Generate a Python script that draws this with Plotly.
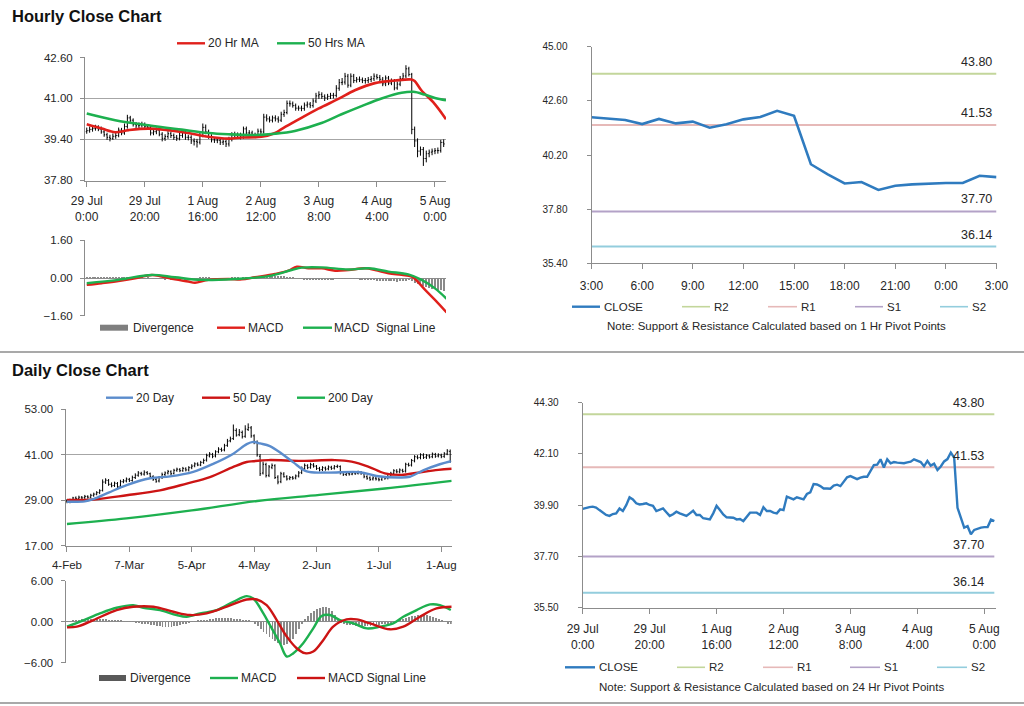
import plotly.graph_objects as go

W, H = 1024, 706
FONT = "Liberation Sans, Arial, sans-serif"
TXT = "#262626"
GRID = "#a6a6a6"
AX = "#8c8c8c"

# ---------------- DATA ----------------
hourly_tickvals = [0, 20, 40, 60, 80, 100, 120]
hourly_ticktext = ["29 Jul<br>0:00", "29 Jul<br>20:00", "1 Aug<br>16:00", "2 Aug<br>12:00",
                   "3 Aug<br>8:00", "4 Aug<br>4:00", "5 Aug<br>0:00"]

hourly_close = [
    39.74, 39.79, 39.82, 39.84, 39.80, 39.69, 39.58, 39.48, 39.44, 39.52,
    39.55, 39.76, 39.65, 39.90, 40.24, 40.15, 39.98, 39.93, 39.95, 39.98,
    39.91, 39.87, 39.65, 39.70, 39.76, 39.60, 39.44, 39.51, 39.62, 39.55,
    39.48, 39.44, 39.55, 39.66, 39.48, 39.48, 39.34, 39.32, 39.29, 39.55,
    39.87, 39.69, 39.50, 39.38, 39.37, 39.36, 39.29, 39.31, 39.22, 39.40,
    39.58, 39.58, 39.58, 39.48, 39.81, 39.65, 39.65, 39.58, 39.55, 39.72,
    39.69, 40.27, 40.20, 40.15, 40.24, 40.20, 40.15, 40.38, 40.45, 40.81,
    40.79, 40.72, 40.62, 40.62, 40.61, 40.74, 40.78, 40.72, 40.90, 41.10,
    41.15, 41.08, 41.02, 41.08, 41.12, 41.12, 41.40, 41.62, 41.64, 41.87,
    41.52, 41.87, 41.70, 41.75, 41.73, 41.70, 41.70, 41.74, 41.77, 41.87,
    41.82, 41.75, 41.57, 41.80, 41.60, 41.68, 41.41, 41.56, 41.78, 41.88,
    42.16, 41.94, 39.79, 39.34, 38.94, 39.00, 38.65, 38.84, 38.90, 38.94,
    38.96, 38.96, 39.28, 39.22]
hourly_open = [
    39.70, 39.74, 39.79, 39.82, 39.84, 39.80, 39.69, 39.58, 39.48, 39.44,
    39.52, 39.55, 39.76, 39.65, 39.90, 40.24, 40.15, 39.98, 39.93, 39.95,
    39.98, 39.91, 39.87, 39.65, 39.70, 39.76, 39.60, 39.44, 39.51, 39.62,
    39.55, 39.48, 39.44, 39.55, 39.66, 39.48, 39.48, 39.34, 39.32, 39.29,
    39.55, 39.87, 39.69, 39.50, 39.38, 39.37, 39.36, 39.29, 39.31, 39.22,
    39.40, 39.58, 39.58, 39.58, 39.48, 39.81, 39.65, 39.65, 39.58, 39.55,
    39.72, 39.69, 40.27, 40.20, 40.15, 40.24, 40.20, 40.15, 40.38, 40.45,
    40.81, 40.79, 40.72, 40.62, 40.62, 40.61, 40.74, 40.78, 40.72, 40.90,
    41.10, 41.15, 41.08, 41.02, 41.08, 41.12, 41.12, 41.40, 41.62, 41.64,
    41.87, 41.52, 41.87, 41.70, 41.75, 41.73, 41.70, 41.70, 41.74, 41.77,
    41.87, 41.82, 41.75, 41.57, 41.80, 41.60, 41.68, 41.41, 41.56, 41.78,
    41.88, 42.16, 41.94, 39.79, 39.34, 38.94, 39.00, 38.65, 38.84, 38.90,
    38.94, 38.96, 38.96, 39.28]
hourly_high = [
    39.86, 39.90, 39.95, 39.97, 39.95, 39.90, 39.78, 39.66, 39.58, 39.63,
    39.66, 39.86, 39.85, 40.02, 40.36, 40.32, 40.22, 40.08, 40.06, 40.09,
    40.06, 39.99, 39.95, 39.80, 39.86, 39.84, 39.68, 39.60, 39.72, 39.70,
    39.63, 39.57, 39.65, 39.76, 39.74, 39.58, 39.56, 39.44, 39.42, 39.66,
    40.02, 39.98, 39.78, 39.60, 39.48, 39.46, 39.45, 39.40, 39.40, 39.50,
    39.68, 39.70, 39.67, 39.66, 39.90, 39.90, 39.76, 39.74, 39.66, 39.82,
    39.82, 40.40, 40.38, 40.30, 40.33, 40.34, 40.30, 40.48, 40.56, 40.92,
    40.92, 40.88, 40.80, 40.72, 40.72, 40.84, 40.88, 40.86, 41.00, 41.22,
    41.28, 41.24, 41.16, 41.18, 41.22, 41.22, 41.52, 41.76, 41.80, 42.00,
    41.96, 41.98, 41.96, 41.84, 41.86, 41.82, 41.80, 41.84, 41.88, 41.98,
    41.96, 41.92, 41.84, 41.90, 41.88, 41.78, 41.76, 41.66, 41.88, 42.00,
    42.30, 42.24, 42.00, 39.90, 39.44, 39.12, 39.10, 38.96, 39.00, 39.04,
    39.06, 39.08, 39.38, 39.40]
hourly_low = [
    39.62, 39.66, 39.70, 39.74, 39.72, 39.62, 39.50, 39.38, 39.32, 39.38,
    39.42, 39.48, 39.56, 39.58, 39.82, 40.04, 39.90, 39.84, 39.84, 39.86,
    39.82, 39.78, 39.55, 39.56, 39.60, 39.52, 39.32, 39.34, 39.42, 39.45,
    39.38, 39.34, 39.36, 39.46, 39.38, 39.36, 39.22, 39.16, 39.08, 39.20,
    39.48, 39.60, 39.42, 39.28, 39.26, 39.25, 39.18, 39.18, 39.10, 39.12,
    39.32, 39.48, 39.46, 39.40, 39.42, 39.56, 39.55, 39.48, 39.45, 39.46,
    39.58, 39.62, 40.10, 40.06, 40.06, 40.10, 40.05, 40.08, 40.28, 40.38,
    40.68, 40.64, 40.52, 40.52, 40.50, 40.52, 40.64, 40.62, 40.64, 40.82,
    40.98, 40.98, 40.90, 40.94, 40.98, 41.00, 41.04, 41.30, 41.52, 41.54,
    41.42, 41.44, 41.60, 41.62, 41.64, 41.60, 41.58, 41.60, 41.64, 41.68,
    41.74, 41.68, 41.48, 41.48, 41.52, 41.52, 41.32, 41.34, 41.48, 41.70,
    41.80, 41.86, 39.60, 39.10, 38.70, 38.76, 38.36, 38.50, 38.70, 38.78,
    38.82, 38.84, 38.88, 39.10]

ma20h_x = [0, 5.2, 9.8, 14.4, 21.2, 28.1, 35, 41.9, 48.8, 53.4, 60.2, 64.9, 67.1, 71.8,
           79.8, 86.7, 92.4, 99.3, 106.2, 111.9, 113, 115.3, 119.8, 123.8]
ma20h_y = [39.99, 39.82, 39.68, 39.76, 39.82, 39.76, 39.65, 39.50, 39.43, 39.47, 39.50, 39.65,
           39.80, 40.10, 40.60, 40.98, 41.32, 41.60, 41.70, 41.74, 41.68, 41.32, 40.80, 40.19]
ma50h_x = [0, 9.8, 21.2, 32.7, 41.9, 48.8, 58, 64.9, 71.7, 80.9, 87.8, 94.7, 101.6, 108.5,
           112.5, 116.5, 120, 123.8]
ma50h_y = [40.41, 40.15, 39.95, 39.78, 39.65, 39.60, 39.57, 39.62, 39.73, 40.04, 40.38, 40.70,
           41.00, 41.22, 41.26, 41.15, 41.02, 40.93]

macdh_x = [0, 5.2, 10.9, 16.7, 22.4, 25.8, 30.4, 35, 37.3, 41.9, 48.8, 53.4, 58, 64.9, 69.5,
           72.4, 76.4, 81, 85.6, 90.2, 95.9, 99.4, 104, 108.5, 112, 116.6, 120, 124]
macdh_y = [-0.29, -0.22, -0.13, -0.01, 0.13, 0.06, -0.06, -0.15, -0.20, -0.08, -0.04, -0.06,
           0.03, 0.17, 0.31, 0.48, 0.41, 0.41, 0.31, 0.34, 0.41, 0.34, 0.20, 0.13, 0.06,
           -0.50, -0.93, -1.46]
sigh_x = [0, 10.9, 22.4, 30.4, 39.6, 51.1, 62.6, 70.6, 74.1, 81, 90.2, 97.1, 104, 110.8,
          115.4, 120, 124]
sigh_y = [-0.22, -0.08, 0.13, 0.03, -0.08, -0.04, 0.08, 0.34, 0.44, 0.45, 0.36, 0.41, 0.27,
          0.15, -0.08, -0.44, -0.88]
divh = [
    0.02, 0.03, 0.02, 0.03, 0.02, 0.03, 0.02, 0.02, 0.03, 0.02,
    0.02, 0.03, 0.02, 0.01, 0.02, 0.01, 0.00, 0.01, 0.00, 0.01,
    0.00, 0.01, 0.00, -0.01, -0.02, -0.03, -0.04, -0.05, -0.04, -0.05,
    -0.04, -0.06, -0.05, -0.04, -0.06, -0.05, -0.04, -0.03, -0.02, 0.02,
    0.03, 0.02, 0.01, 0.00, -0.01, -0.02, -0.01, -0.02, -0.01, 0.00,
    0.01, 0.02, 0.01, 0.00, 0.01, 0.02, 0.03, 0.02, 0.03, 0.04,
    0.05, 0.06, 0.07, 0.08, 0.07, 0.08, 0.06, 0.07, 0.05, 0.04,
    0.03, 0.02, 0.00, -0.02, -0.04, -0.05, -0.06, -0.07, -0.06, -0.08,
    -0.07, -0.06, -0.08, -0.07, -0.05, -0.06, -0.04, -0.03, -0.02, -0.01,
    0.00, -0.01, -0.02, -0.04, -0.05, -0.06, -0.07, -0.08, -0.09, -0.10,
    -0.11, -0.12, -0.13, -0.12, -0.13, -0.12, -0.14, -0.15, -0.14, -0.13,
    -0.12, -0.10, -0.14, -0.20, -0.25, -0.30, -0.34, -0.38, -0.42, -0.45,
    -0.48, -0.50, -0.52, -0.54]

pivot_start = 99
pivot_ticktext = ["3:00", "6:00", "9:00", "12:00", "15:00", "18:00", "21:00", "0:00", "3:00"]
level_names = ["R2", "R1", "S1", "S2"]
level_values = [43.80, 41.53, 37.70, 36.14]
level_colors = ["#c3d69b", "#e6b9b8", "#b3a2c7", "#93cddd"]

daily_tickvals = [0, 21, 42, 63, 84, 105, 126]
daily_ticktext = ["4-Feb", "7-Mar", "5-Apr", "4-May", "2-Jun", "1-Jul", "1-Aug"]
daily_close = [
    28.6, 29.0, 29.6, 29.4, 29.8, 29.6, 30.0, 29.8, 30.3, 30.6,
    31.0, 31.5, 33.8, 34.3, 33.2, 32.8, 33.5, 32.6, 33.9, 34.1,
    34.6, 34.2, 35.0, 35.6, 36.2, 35.9, 36.4, 36.0, 35.3, 34.5,
    34.0, 35.0, 35.8, 36.2, 36.6, 36.0, 36.9, 37.2, 36.8, 37.4,
    37.0, 37.6, 38.0, 38.6, 38.3, 39.0, 39.5, 40.8, 41.2, 40.6,
    41.8, 42.5, 42.2, 43.4, 44.6, 45.2, 47.5, 46.2, 47.0, 45.8,
    47.8, 48.2, 46.0, 44.5, 41.0, 36.0, 38.5, 35.5, 37.8, 38.2,
    35.0, 33.8, 36.0, 35.2, 34.6, 35.0, 34.8, 35.4, 36.2, 37.5,
    38.2, 37.6, 38.4, 38.0, 37.4, 37.0, 37.6, 37.2, 37.8, 37.4,
    37.9, 38.0, 36.2, 35.8, 36.1, 35.9, 36.2, 36.0, 36.4, 36.1,
    35.2, 34.8, 34.5, 34.9, 34.6, 34.4, 35.0, 34.8, 35.8, 36.1,
    36.8, 36.5, 37.0, 36.6, 38.5, 38.2, 39.5, 40.5, 40.2, 41.0,
    40.3, 40.8, 40.4, 41.2, 40.6, 41.0, 40.5, 41.3, 42.0, 39.3]
daily_open = [
    28.8, 28.6, 29.1, 29.6, 29.4, 29.8, 29.7, 30.0, 29.8, 30.3,
    30.6, 31.0, 31.6, 33.8, 34.2, 33.2, 32.9, 33.4, 32.7, 33.9,
    34.1, 34.5, 34.2, 35.0, 35.6, 36.1, 35.9, 36.3, 36.0, 35.2,
    34.5, 34.1, 35.0, 35.8, 36.2, 36.5, 36.1, 36.9, 37.1, 36.8,
    37.3, 37.0, 37.6, 38.1, 38.6, 38.3, 39.0, 39.6, 40.7, 41.1,
    40.7, 41.8, 42.4, 42.3, 43.5, 44.7, 45.3, 47.4, 46.3, 46.9,
    45.9, 47.7, 48.1, 46.0, 44.3, 40.6, 36.2, 38.4, 35.6, 37.7,
    38.1, 35.1, 33.9, 35.9, 35.2, 34.7, 35.0, 34.9, 35.4, 36.3,
    37.4, 38.1, 37.7, 38.3, 38.0, 37.4, 37.1, 37.5, 37.3, 37.7,
    37.5, 37.9, 37.9, 36.3, 35.8, 36.0, 35.9, 36.2, 36.1, 36.3,
    36.0, 35.2, 34.9, 34.6, 34.8, 34.6, 34.5, 35.0, 34.9, 35.7,
    36.1, 36.7, 36.5, 36.9, 36.7, 38.4, 38.3, 39.4, 40.4, 40.3,
    40.9, 40.4, 40.7, 40.5, 41.1, 40.7, 40.9, 40.6, 41.2, 41.9]
daily_high = [
    29.3, 29.4, 29.9, 30.0, 30.2, 30.1, 30.4, 30.3, 30.7, 31.0,
    31.4, 31.9, 34.5, 34.8, 34.6, 33.7, 33.9, 33.8, 34.4, 34.6,
    35.0, 34.9, 35.5, 36.1, 36.7, 36.5, 36.9, 36.7, 36.3, 35.6,
    34.9, 35.4, 36.3, 36.6, 37.0, 36.9, 37.3, 37.6, 37.5, 37.8,
    37.7, 38.0, 38.5, 39.0, 39.0, 39.4, 40.0, 41.3, 41.7, 41.5,
    42.2, 43.0, 42.9, 43.9, 45.2, 45.8, 49.0, 48.0, 47.8, 47.4,
    48.8, 49.3, 48.6, 46.4, 44.8, 41.2, 39.2, 38.9, 38.3, 38.7,
    38.5, 35.6, 36.5, 36.4, 35.6, 35.4, 35.4, 35.8, 36.7, 37.9,
    38.7, 38.5, 38.9, 38.8, 38.3, 37.8, 38.0, 37.9, 38.2, 38.1,
    38.3, 38.4, 38.2, 36.7, 36.5, 36.4, 36.6, 36.5, 36.8, 36.7,
    36.4, 35.6, 35.3, 35.3, 35.2, 35.0, 35.4, 35.4, 36.2, 36.5,
    37.2, 37.2, 37.4, 37.3, 38.9, 38.9, 39.9, 40.9, 40.9, 41.4,
    41.4, 41.2, 41.1, 41.6, 41.5, 41.4, 41.3, 41.7, 42.5, 42.4]
daily_low = [
    28.2, 28.2, 28.8, 29.0, 29.0, 29.2, 29.3, 29.4, 29.5, 29.9,
    30.3, 30.6, 31.3, 33.3, 32.8, 32.4, 32.5, 32.2, 32.4, 33.5,
    33.7, 33.8, 33.9, 34.6, 35.2, 35.5, 35.5, 35.7, 34.9, 34.1,
    33.6, 33.7, 34.6, 35.4, 35.8, 35.6, 35.8, 36.5, 36.4, 36.5,
    36.6, 36.6, 37.2, 37.7, 38.0, 38.0, 38.6, 39.2, 40.3, 40.1,
    40.3, 41.4, 41.8, 41.9, 43.1, 44.3, 44.9, 45.8, 45.9, 45.3,
    45.5, 47.3, 45.5, 43.8, 40.5, 35.4, 35.8, 35.0, 35.1, 37.2,
    34.6, 33.2, 33.5, 35.0, 34.2, 34.3, 34.4, 34.5, 35.0, 35.9,
    37.0, 37.2, 37.3, 37.6, 37.0, 36.6, 36.7, 36.8, 36.9, 37.0,
    37.1, 37.5, 35.8, 35.4, 35.4, 35.5, 35.6, 35.7, 35.8, 35.7,
    34.8, 34.4, 34.1, 34.2, 34.2, 34.0, 34.1, 34.4, 34.5, 35.4,
    35.8, 36.1, 36.1, 36.3, 36.3, 37.9, 37.9, 39.0, 39.8, 39.8,
    39.9, 39.9, 40.0, 40.1, 40.2, 40.3, 40.1, 40.2, 40.9, 38.9]

ma20d_x = [0, 6, 8.9, 14, 20.1, 28, 34.7, 42.5, 49.2, 56, 60.5, 62.7, 65, 68.3, 72.8, 76.2,
           80.7, 87.4, 98.6, 104.2, 112.1, 115.4, 119.9, 125.5, 129.2]
ma20d_y = [28.6, 28.7, 29.3, 31.0, 33.0, 34.8, 35.3, 36.5, 38.6, 41.3, 43.8, 44.4, 44.0, 43.3,
           41.0, 39.0, 36.6, 36.3, 36.4, 35.4, 35.0, 35.2, 36.9, 38.5, 39.3]
ma50d_x = [0, 8.9, 20.1, 31.3, 40.3, 48.1, 56, 60.5, 62.7, 67.8, 79, 90.2, 95.8, 101.4, 107,
           112.6, 118.2, 125, 129.5]
ma50d_y = [29.07, 29.2, 30.3, 31.6, 33.4, 35.1, 37.8, 39.1, 39.3, 39.6, 39.4, 39.6, 39.2, 37.9,
           36.1, 35.7, 36.3, 37.0, 37.3]
ma200d_x = [0, 20, 42, 64, 85, 107, 129.5]
ma200d_y = [22.7, 24.2, 26.3, 28.8, 30.4, 32.1, 34.1]

macdd_x = [0, 5.5, 11.1, 16.7, 22.3, 25.7, 31.3, 36.9, 40.3, 44.8, 50.4, 56, 60.5, 62.7, 66.1,
           68.3, 71.7, 74, 76.2, 79.5, 82.9, 85.7, 88.5, 91.9, 96.4, 100.9, 105.4, 109.8,
           113.2, 117.7, 122.2, 125.5, 129.2]
macdd_y = [-0.73, 0.2, 1.22, 2.05, 2.44, 2.05, 1.71, 0.98, 0.73, 1.22, 1.71, 2.93, 3.76, 3.41,
           1.22, -0.49, -3.17, -5.12, -4.63, -3.17, -0.98, 0.83, 0.98, 0.24, -0.24, -0.98,
           -0.73, -0.24, 0.73, 1.71, 2.54, 2.44, 1.71]
sigd_x = [0, 3.3, 8.9, 16.7, 22.3, 29.1, 35.8, 41.4, 47, 53.8, 60.5, 63.9, 67.2, 70.6, 74,
          77.3, 80.1, 82.9, 86.3, 89.6, 94.1, 97.5, 102, 108.7, 113.2, 118.8, 124.4, 129.5]
sigd_y = [-0.83, -0.73, 0.24, 1.71, 2.2, 2.2, 1.46, 0.98, 1.22, 2.2, 3.27, 3.27, 2.44, 0.24,
          -2.2, -3.9, -4.63, -4.39, -2.68, -0.73, 0.34, 0.34, -0.24, -1.12, -0.73, 0.73,
          1.95, 2.2]
divd = [
    0.05, 0.10, 0.18, 0.25, 0.32, 0.38, 0.42, 0.46, 0.48, 0.50,
    0.48, 0.45, 0.42, 0.38, 0.34, 0.30, 0.26, 0.22, 0.18, 0.14,
    0.10, 0.06, 0.02, -0.05, -0.10, -0.18, -0.25, -0.32, -0.40, -0.48,
    -0.55, -0.62, -0.68, -0.72, -0.74, -0.70, -0.62, -0.52, -0.40, -0.28,
    -0.15, -0.05, 0.05, 0.12, 0.18, 0.24, 0.30, 0.36, 0.42, 0.48,
    0.54, 0.58, 0.60, 0.58, 0.56, 0.52, 0.48, 0.45, 0.40, 0.36,
    0.32, 0.25, 0.10, -0.20, -0.60, -1.00, -1.40, -1.80, -2.20, -2.50,
    -2.80, -3.05, -3.25, -3.40, -3.30, -3.00, -2.50, -1.80, -1.00, -0.30,
    0.40, 0.90, 1.30, 1.65, 1.90, 2.10, 2.20, 2.15, 2.00, 1.60,
    1.00, 0.40, -0.10, -0.30, -0.40, -0.45, -0.50, -0.55, -0.58, -0.60,
    -0.60, -0.58, -0.55, -0.50, -0.45, -0.40, -0.35, -0.30, -0.25, -0.15,
    -0.05, 0.10, 0.25, 0.40, 0.55, 0.70, 0.82, 0.92, 1.00, 1.05,
    1.05, 1.00, 0.92, 0.80, 0.65, 0.50, 0.30, 0.10, -0.15, -0.30]

# ---------------- STYLE ----------------
RED = "#e0201b"
GREEN = "#1db04f"
BLUE_MA = "#5b8ccc"
RED_D = "#cc1414"
CLOSE_BLUE = "#2f7bbf"
DIV_GREY = "#8a8a8a"

hx = list(range(len(hourly_close)))
dx = list(range(len(daily_close)))
px_x = hx[pivot_start:]
px_y = hourly_close[pivot_start:]
pivot_tickvals = px_x[::3]


def P(x):
    return x / W


def Q(y):
    return 1 - y / H


def xd(a, b):
    return [P(a), P(b)]


def yd(top, bottom):
    return [Q(bottom), Q(top)]


fig = go.Figure()

fig.add_trace(go.Ohlc(x=hx, open=hourly_open, high=hourly_high, low=hourly_low, close=hourly_close,
                      increasing=dict(line=dict(color="black", width=1)),
                      decreasing=dict(line=dict(color="black", width=1)),
                      tickwidth=0.35, xaxis="x", yaxis="y", showlegend=False, hoverinfo="skip"))
fig.add_trace(go.Scatter(x=ma20h_x, y=ma20h_y, mode="lines", line=dict(color=RED, width=2.6, shape="spline"),
                         xaxis="x", yaxis="y", showlegend=False))
fig.add_trace(go.Scatter(x=ma50h_x, y=ma50h_y, mode="lines", line=dict(color=GREEN, width=2.6, shape="spline"),
                         xaxis="x", yaxis="y", showlegend=False))

fig.add_trace(go.Bar(x=hx, y=divh, marker=dict(color=DIV_GREY, line=dict(width=0)), width=0.35,
                     xaxis="x2", yaxis="y2", showlegend=False))
fig.add_trace(go.Scatter(x=macdh_x, y=macdh_y, mode="lines", line=dict(color=RED, width=2.4, shape="spline"),
                         xaxis="x2", yaxis="y2", showlegend=False))
fig.add_trace(go.Scatter(x=sigh_x, y=sigh_y, mode="lines", line=dict(color=GREEN, width=2.4, shape="spline"),
                         xaxis="x2", yaxis="y2", showlegend=False))

for nm, v, c in zip(level_names, level_values, level_colors):
    fig.add_trace(go.Scatter(x=[px_x[0], px_x[-1]], y=[v, v], mode="lines", line=dict(color=c, width=2),
                             xaxis="x3", yaxis="y3", showlegend=False))
fig.add_trace(go.Scatter(x=px_x, y=px_y, mode="lines", line=dict(color=CLOSE_BLUE, width=2.6),
                         xaxis="x3", yaxis="y3", showlegend=False))

fig.add_trace(go.Ohlc(x=dx, open=daily_open, high=daily_high, low=daily_low, close=daily_close,
                      increasing=dict(line=dict(color="black", width=1)),
                      decreasing=dict(line=dict(color="black", width=1)),
                      tickwidth=0.35, xaxis="x4", yaxis="y4", showlegend=False, hoverinfo="skip"))
fig.add_trace(go.Scatter(x=ma200d_x, y=ma200d_y, mode="lines", line=dict(color=GREEN, width=2.4, shape="spline"),
                         xaxis="x4", yaxis="y4", showlegend=False))
fig.add_trace(go.Scatter(x=ma50d_x, y=ma50d_y, mode="lines", line=dict(color=RED_D, width=2.4, shape="spline"),
                         xaxis="x4", yaxis="y4", showlegend=False))
fig.add_trace(go.Scatter(x=ma20d_x, y=ma20d_y, mode="lines", line=dict(color=BLUE_MA, width=2.4, shape="spline"),
                         xaxis="x4", yaxis="y4", showlegend=False))

fig.add_trace(go.Bar(x=dx, y=divd, marker=dict(color=DIV_GREY, line=dict(width=0)), width=0.3,
                     xaxis="x5", yaxis="y5", showlegend=False))
fig.add_trace(go.Scatter(x=macdd_x, y=macdd_y, mode="lines", line=dict(color=GREEN, width=2.4, shape="spline"),
                         xaxis="x5", yaxis="y5", showlegend=False))
fig.add_trace(go.Scatter(x=sigd_x, y=sigd_y, mode="lines", line=dict(color=RED_D, width=2.4, shape="spline"),
                         xaxis="x5", yaxis="y5", showlegend=False))

for nm, v, c in zip(level_names, level_values, level_colors):
    fig.add_trace(go.Scatter(x=[hx[0], hx[-1]], y=[v, v], mode="lines", line=dict(color=c, width=2),
                             xaxis="x6", yaxis="y6", showlegend=False))
fig.add_trace(go.Scatter(x=hx, y=hourly_close, mode="lines", line=dict(color=CLOSE_BLUE, width=2.4),
                         xaxis="x6", yaxis="y6", showlegend=False))

tick_font_l = dict(family=FONT, size=11.5, color=TXT)
tick_font_x = dict(family=FONT, size=12, color=TXT)
tick_font_r = dict(family=FONT, size=10, color=TXT)

base_x = dict(showgrid=False, zeroline=False, fixedrange=True, showline=True, linecolor=AX, linewidth=1,
              ticks="outside", ticklen=5, tickcolor=AX, tickfont=tick_font_x, automargin=False)
base_y = dict(zeroline=False, fixedrange=True, showline=True, linecolor=AX, linewidth=1,
              ticks="outside", ticklen=4, tickcolor=AX, tickformat=".2f", automargin=False)
hidden_x = dict(showgrid=False, zeroline=False, showline=False, showticklabels=False, ticks="",
                fixedrange=True, automargin=False)

layout = dict(
    width=W, height=H, margin=dict(l=0, r=0, t=0, b=0, pad=0, autoexpand=False), autosize=False,
    paper_bgcolor="white", plot_bgcolor="white", showlegend=False,
    font=dict(family=FONT, color=TXT),
    xaxis=dict(base_x, domain=xd(85, 446), range=[-0.6, 123.8], anchor="y",
               tickvals=hourly_tickvals, ticktext=hourly_ticktext, rangeslider=dict(visible=False),
               ticklabelstandoff=4),
    yaxis=dict(base_y, domain=yd(57.3, 180.5), range=[37.79, 42.61], anchor="x",
               tickvals=[37.8, 39.4, 41.0, 42.6], showgrid=True, gridcolor=GRID, tickfont=tick_font_l,
               ticklabelstandoff=5),
    xaxis2=dict(hidden_x, domain=xd(85, 446), range=[-0.6, 123.8], anchor="y2"),
    yaxis2=dict(base_y, domain=yd(240, 316), range=[-1.61, 1.61], anchor="x2",
                tickvals=[-1.6, 0, 1.6], showgrid=True, gridcolor=GRID, zeroline=True,
                zerolinecolor=AX, zerolinewidth=1, tickfont=tick_font_l, ticklabelstandoff=5),
    xaxis3=dict(base_x, domain=xd(591.5, 996.5), range=[px_x[0], px_x[-1]], anchor="y3",
                tickvals=pivot_tickvals, ticktext=pivot_ticktext, ticklabelstandoff=6),
    yaxis3=dict(base_y, domain=yd(46.7, 263.3), range=[35.4, 45.0], anchor="x3",
                tickvals=[35.4, 37.8, 40.2, 42.6, 45.0], showgrid=False, tickfont=tick_font_r,
                ticklabelstandoff=17),
    xaxis4=dict(base_x, domain=xd(65.5, 451.7), range=[-0.5, 129.5], anchor="y4",
                tickvals=daily_tickvals, ticktext=daily_ticktext, rangeslider=dict(visible=False),
                tickfont=dict(family=FONT, size=11.5, color=TXT), ticklabelstandoff=3),
    yaxis4=dict(base_y, domain=yd(409.3, 545.7), range=[16.98, 53.02], anchor="x4",
                tickvals=[17, 29, 41, 53], showgrid=True, gridcolor=GRID, tickfont=tick_font_l,
                ticklabelstandoff=5),
    xaxis5=dict(hidden_x, domain=xd(65.5, 451.7), range=[-0.5, 129.5], anchor="y5"),
    yaxis5=dict(base_y, domain=yd(580.7, 662.7), range=[-6.03, 6.03], anchor="x5",
                tickvals=[-6, 0, 6], showgrid=True, gridcolor=GRID, zeroline=True,
                zerolinecolor=AX, zerolinewidth=1, tickfont=tick_font_l, ticklabelstandoff=5),
    xaxis6=dict(base_x, domain=xd(582.7, 996), range=[0, 123.5], anchor="y6",
                tickvals=hourly_tickvals, ticktext=hourly_ticktext, ticklabelstandoff=5),
    yaxis6=dict(base_y, domain=yd(402.7, 607.7), range=[35.5, 44.3], anchor="x6",
                tickvals=[35.5, 37.7, 39.9, 42.1, 44.3], showgrid=False, tickfont=tick_font_r,
                ticklabelstandoff=17),
    bargap=0,
)
fig.update_layout(**layout)

shapes = []
annotations = []


def leg_line(x0, x1, y, color, width=2.4):
    shapes.append(dict(type="line", xref="paper", yref="paper", x0=P(x0), x1=P(x1), y0=Q(y), y1=Q(y),
                       line=dict(color=color, width=width)))


def leg_rect(x0, x1, y, h, color):
    shapes.append(dict(type="rect", xref="paper", yref="paper", x0=P(x0), x1=P(x1), y0=Q(y + h / 2),
                       y1=Q(y - h / 2), line=dict(width=0), fillcolor=color))


def text(x, y, s, size=11.5, anchor="left", bold=False, color=TXT):
    annotations.append(dict(xref="paper", yref="paper", x=P(x), y=Q(y), text=("<b>%s</b>" % s) if bold else s,
                            showarrow=False, xanchor=anchor, yanchor="middle",
                            font=dict(family=FONT, size=size, color=color)))


text(10, 16, "Hourly Close Chart", size=16.5, bold=True, color="#111111")
text(10, 370, "Daily Close Chart", size=16.5, bold=True, color="#111111")

for yy in (352, 703):
    shapes.append(dict(type="line", xref="paper", yref="paper", x0=0, x1=1, y0=Q(yy), y1=Q(yy),
                       line=dict(color="#8c8c8c", width=1.5)))

leg_line(177, 205, 43.3, RED)
text(206, 43.3, "20 Hr MA", size=12)
leg_line(277, 305, 43.3, GREEN)
text(306, 43.3, "50 Hrs MA", size=12)

leg_rect(100, 128, 327.7, 6, "#7f7f7f")
text(131, 327.7, "Divergence", size=12)
leg_line(217, 245, 327.7, RED)
text(246, 327.7, "MACD", size=12)
leg_line(303, 332, 327.7, GREEN)
text(332, 327.7, "MACD  Signal Line", size=12)

pv_items = [("CLOSE", CLOSE_BLUE, 572, 600)] + [(n, c, a, b) for n, c, (a, b) in
                                                zip(level_names, level_colors,
                                                    [(682, 710), (768, 797), (855, 883), (940, 968)])]
for n, c, a, b in pv_items:
    leg_line(a, b, 306.7, c, width=2.4 if n == "CLOSE" else 1.6)
    text(b + 2, 306.7, n, size=11.5)
text(776, 325.5, "Note: Support &amp; Resistance Calculated based on 1 Hr Pivot Points", size=11.5,
     anchor="center")

leg_line(106, 133, 397.7, BLUE_MA)
text(134, 397.7, "20 Day", size=12)
leg_line(202, 230, 397.7, RED_D)
text(231, 397.7, "50 Day", size=12)
leg_line(297, 325, 397.7, GREEN)
text(326, 397.7, "200 Day", size=12)

leg_rect(99, 126, 678, 6, "#595959")
text(128, 678, "Divergence", size=12)
leg_line(210, 238, 678, GREEN)
text(239, 678, "MACD", size=12)
leg_line(297, 325, 678, RED_D)
text(326, 678, "MACD Signal Line", size=12)

pv2 = [("CLOSE", CLOSE_BLUE, 565, 595)] + [(n, c, a, b) for n, c, (a, b) in
                                           zip(level_names, level_colors,
                                               [(677, 705), (763, 793), (850, 880), (937, 967)])]
for n, c, a, b in pv2:
    leg_line(a, b, 667.3, c, width=2.4 if n == "CLOSE" else 1.6)
    text(b + 2, 667.3, n, size=11.5)
text(771, 687, "Note: Support &amp; Resistance Calculated based on 24 Hr Pivot Points", size=11.5,
     anchor="center")

for v in level_values:
    annotations.append(dict(xref="x3", yref="y3", x=px_x[-1], y=v, text="%.2f" % v, showarrow=False,
                            xanchor="right", yanchor="bottom", xshift=-3, yshift=3,
                            font=dict(family=FONT, size=12.5, color=TXT)))
    annotations.append(dict(xref="x6", yref="y6", x=hx[-1], y=v, text="%.2f" % v, showarrow=False,
                            xanchor="right", yanchor="bottom", xshift=-8, yshift=2,
                            font=dict(family=FONT, size=12.5, color=TXT)))

fig.update_layout(shapes=shapes, annotations=annotations)
fig.write_html("out.html")
